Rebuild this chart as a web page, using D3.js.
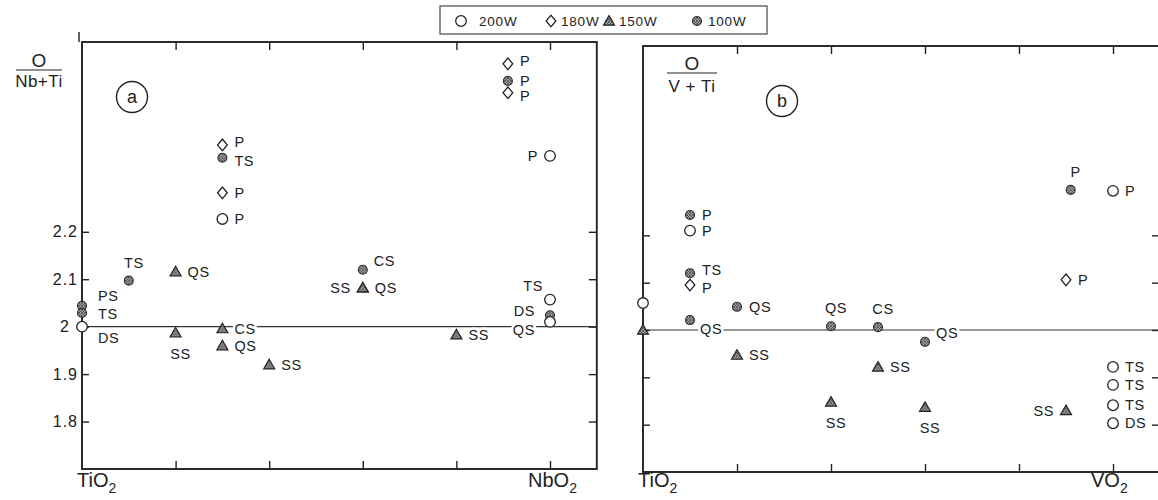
<!DOCTYPE html>
<html><head><meta charset="utf-8">
<script src="https://cdn.jsdelivr.net/npm/d3@7"></script>
<style>
body{margin:0;background:#fff;}
svg{display:block;font-family:"Liberation Sans",Arial,sans-serif;}
</style></head><body>
<svg id="c" width="1158" height="500"></svg>
<script>
// ---------- data ----------
const seriesNames = ["200W", "180W", "150W", "100W"];
const seriesShapes = ["open", "diamond", "triangle", "hatched"];
const yTicks = [1.8, 1.9, 2.0, 2.1, 2.2];
const yTickLabels = ["1.8", "1.9", "2", "2.1", "2.2"];
const xTicks = [0.2, 0.4, 0.6, 0.8, 1.0];
const endLabelsA = ["TiO", "NbO"];
const endLabelsB = ["TiO", "VO"];
// [composition, O/(M+Ti), series index, label, label placement]
const pointsA = [
  [0, 2.000, 0, "DS", "rd"],
  [0, 2.044, 3, "PS", "ru"],
  [0, 2.029, 3, "TS", "r0"],
  [0.1, 2.097, 3, "TS", "a"],
  [0.2, 2.116, 2, "QS", "r"],
  [0.2, 1.987, 2, "SS", "b"],
  [0.3, 1.996, 2, "CS", "r"],
  [0.3, 1.960, 2, "QS", "r"],
  [0.4, 1.920, 2, "SS", "r"],
  [0.3, 2.383, 1, "P", "rup"],
  [0.3, 2.356, 3, "TS", "rdn"],
  [0.3, 2.282, 1, "P", "r"],
  [0.3, 2.227, 0, "P", "r"],
  [0.6, 2.120, 3, "CS", "ar"],
  [0.6, 2.082, 2, "QS", "r"],
  [0.6, 2.082, 2, "SS", "l"],
  [0.8, 1.983, 2, "SS", "r"],
  [1.0, 2.057, 0, "TS", "al"],
  [1.0, 2.024, 3, "DS", "lu"],
  [1.0, 2.010, 0, "QS", "ld"],
  [0.91, 2.554, 1, "P", "rup"],
  [0.91, 2.518, 3, "P", "r"],
  [0.91, 2.493, 1, "P", "rdn"],
  [1.0, 2.360, 0, "P", "l"]
];
const pointsB = [
  [0, 2.057, 0, "", ""],
  [0, 2.000, 2, "", ""],
  [0.1, 2.243, 3, "P", "r"],
  [0.1, 2.210, 0, "P", "r"],
  [0.1, 2.120, 3, "TS", "rup"],
  [0.1, 2.095, 1, "P", "rdn"],
  [0.1, 2.021, 3, "QS", "br"],
  [0.2, 2.049, 3, "QS", "r"],
  [0.2, 1.947, 2, "SS", "r"],
  [0.4, 2.008, 3, "QS", "a"],
  [0.4, 1.848, 2, "SS", "b"],
  [0.5, 2.006, 3, "CS", "a"],
  [0.5, 1.922, 2, "SS", "r"],
  [0.6, 1.975, 3, "QS", "ar"],
  [0.6, 1.837, 2, "SS", "b"],
  [0.9, 2.106, 1, "P", "r"],
  [0.9, 1.830, 2, "SS", "l"],
  [0.91, 2.296, 3, "P", "a"],
  [1.0, 2.294, 0, "P", "r"],
  [1.0, 1.922, 0, "TS", "r"],
  [1.0, 1.884, 0, "TS", "r"],
  [1.0, 1.841, 0, "TS", "r"],
  [1.0, 1.803, 0, "DS", "r"]
];

// ---------- layout ----------
const INK = "#222";
const svg = d3.select("#c");
const defs = svg.append("defs");
const pat = defs.append("pattern").attr("id", "hatch").attr("patternUnits", "userSpaceOnUse")
  .attr("width", 3).attr("height", 3);
pat.append("rect").attr("width", 3).attr("height", 3).attr("fill", "#a8a8a8");
pat.append("path").attr("d", "M0,0L3,3M3,0L0,3").attr("stroke", "#3a3a3a").attr("stroke-width", 0.7);

const placements = {
  r: [12, 0, "start"], l: [-12, 0, "end"], a: [5, -18, "middle"], b: [5, 21, "middle"],
  rup: [12, -3, "start"], rdn: [12, 3, "start"],
  ar: [11, -9, "start"], al: [-7, -14, "end"], br: [10, 9, "start"],
  lu: [-15, -5, "end"], ld: [-15, 8, "end"],
  ru: [16, -10, "start"], r0: [16, 1, "start"], rd: [16, 11, "start"]
};

function marker(g, shape, cx, cy) {
  if (shape === "open") {
    g.append("path").attr("d", d3.symbol(d3.symbolCircle, 88)())
      .attr("transform", `translate(${cx},${cy})`).attr("fill", "#fff").attr("stroke", INK).attr("stroke-width", 1.3);
  } else if (shape === "diamond") {
    g.append("path").attr("d", d3.symbol(d3.symbolDiamond2, 60)())
      .attr("transform", `translate(${cx},${cy}) scale(1,1.2)`).attr("fill", "#fff").attr("stroke", INK).attr("stroke-width", 1.2);
  } else if (shape === "triangle") {
    g.append("path").attr("d", d3.symbol(d3.symbolTriangle, 52)())
      .attr("transform", `translate(${cx},${cy + 1})`).attr("fill", "url(#hatch)").attr("stroke", INK).attr("stroke-width", 1.2);
  } else {
    g.append("path").attr("d", d3.symbol(d3.symbolCircle, 64)())
      .attr("transform", `translate(${cx},${cy})`).attr("fill", "url(#hatch)").attr("stroke", "#333").attr("stroke-width", 1.1);
  }
}

function panel(cfg) {
  const x = d3.scaleLinear().domain([0, 1]).range(cfg.xr);
  const y = d3.scaleLinear().domain([1.7, 2.6]).range(cfg.yr);
  const L = x(0), R = x(1.1), T = y(2.6), B = y(1.7);
  const g = svg.append("g");

  const ax = (a, tx, ty) => {
    const s = g.append("g").attr("transform", `translate(${tx},${ty})`).call(a);
    s.select(".domain").remove();
    s.selectAll("line").attr("stroke", INK).attr("stroke-width", 1.4);
    s.selectAll("text").attr("fill", INK).attr("font-size", 16).attr("letter-spacing", "1px")
      .attr("font-family", "Liberation Sans, Arial, sans-serif");
    return s;
  };
  const left = ax(d3.axisLeft(y).tickValues(yTicks).tickSize(-7).tickPadding(4)
    .tickFormat((d, i) => cfg.labels ? yTickLabels[i] : ""), L, 0);
  if (cfg.labels) left.selectAll(".tick").filter(d => d === 2).select("text").attr("dx", -8);
  ax(d3.axisRight(y).tickValues(yTicks).tickSize(-8).tickFormat(""), R, 0);
  ax(d3.axisBottom(x).tickValues(xTicks).tickSize(-8).tickFormat(""), 0, B);
  ax(d3.axisTop(x).tickValues(xTicks).tickSize(-8).tickFormat(""), 0, T);

  g.append("rect").attr("x", L).attr("y", T).attr("width", R - L).attr("height", B - T)
    .attr("fill", "none").attr("stroke", INK).attr("stroke-width", 1.9);

  g.append("line").attr("x1", L).attr("x2", R).attr("y1", y(2)).attr("y2", y(2))
    .attr("stroke", "#333").attr("stroke-width", 1.1);

  cfg.pts.forEach(p => {
    if (!p[3]) return;
    const pl = placements[p[4]];
    g.append("text").attr("x", x(p[0]) + pl[0]).attr("y", y(p[1]) + pl[1]).attr("dy", "0.36em")
      .attr("text-anchor", pl[2]).attr("font-size", 14.5).attr("letter-spacing", "0.6px")
      .attr("fill", INK).attr("stroke", "#fff").attr("stroke-width", 5).attr("stroke-linejoin", "round")
      .attr("paint-order", "stroke").text(p[3]);
  });
  cfg.pts.forEach(p => marker(g, seriesShapes[p[2]], x(p[0]), y(p[1])));

  [[0, cfg.ends[0], -5], [1, cfg.ends[1], -22]].forEach(([v, t, off]) => {
    const tx = g.append("text").attr("x", x(v) + off).attr("y", 487)
      .attr("font-size", 20).attr("fill", INK).attr("text-anchor", "start");
    tx.append("tspan").text(t);
    tx.append("tspan").attr("font-size", 14).attr("dy", 6).text("2");
  });

  const f = cfg.frac;
  g.append("text").attr("x", f[0]).attr("y", f[1]).attr("text-anchor", "middle").attr("font-size", 19)
    .attr("fill", INK).text("O");
  g.append("line").attr("x1", f[0] - f[3]).attr("x2", f[0] + f[3]).attr("y1", f[1] + f[4]).attr("y2", f[1] + f[4])
    .attr("stroke", INK).attr("stroke-width", 1.1);
  g.append("text").attr("x", f[0]).attr("y", f[1] + f[5]).attr("text-anchor", "middle").attr("font-size", 17)
    .attr("letter-spacing", "0.5px").attr("fill", INK).text(f[2]);

  g.append("circle").attr("cx", cfg.tag[0]).attr("cy", cfg.tag[1]).attr("r", 15.5)
    .attr("fill", "none").attr("stroke", INK).attr("stroke-width", 1.4);
  g.append("text").attr("x", cfg.tag[0]).attr("y", cfg.tag[1]).attr("dy", "0.35em").attr("text-anchor", "middle")
    .attr("font-size", 18).attr("fill", INK).text(cfg.tag[2]);
  return {x, y, L, T};
}

const pa = panel({xr: [82, 550], yr: [469, 42], pts: pointsA, labels: true, ends: endLabelsA,
  frac: [39, 67, "Nb+Ti", 23, 3, 20], tag: [132, 97, "a"]});
svg.append("line").attr("x1", pa.L - 3).attr("x2", pa.L - 3).attr("y1", pa.T - 10).attr("y2", pa.T)
  .attr("stroke", INK).attr("stroke-width", 1.4);
panel({xr: [643, 1113], yr: [472, 46], pts: pointsB, labels: false, ends: endLabelsB,
  frac: [692, 70, "V + Ti", 25, 3, 22], tag: [782, 101, "b"]});

// ---------- legend ----------
const lg = svg.append("g");
lg.append("rect").attr("x", 440).attr("y", 6).attr("width", 327).attr("height", 28)
  .attr("fill", "#fff").attr("stroke", "#333").attr("stroke-width", 1.1);
const legMarkX = [461, 551, 609, 697];
const legTextX = [479, 561, 619, 708];
seriesNames.forEach((n, i) => {
  marker(lg, seriesShapes[i], legMarkX[i], 21);
  lg.append("text").attr("x", legTextX[i]).attr("y", 21).attr("dy", "0.36em").attr("font-size", 13.5)
    .attr("letter-spacing", "0.8px").attr("fill", INK).text(n);
});
</script>
</body></html>
